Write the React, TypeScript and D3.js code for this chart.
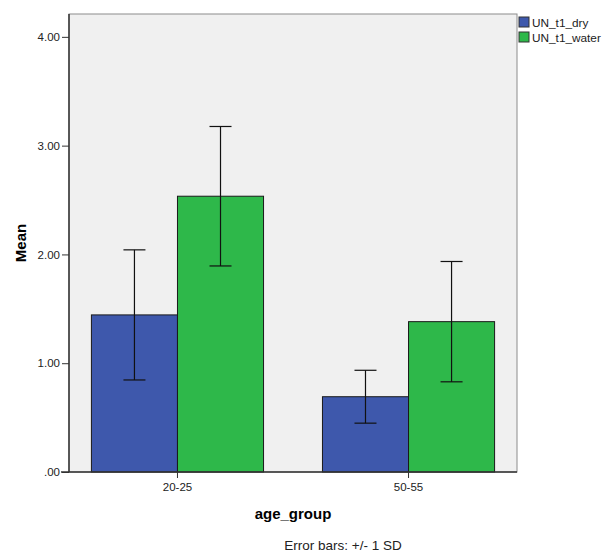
import React, { useEffect, useRef } from 'react'
import * as d3 from 'd3'

// chart data
const ageGroups = ['20-25', '50-55']
const seriesNames = ['UN_t1_dry', 'UN_t1_water']
const dryMeans = [1.444, 0.692]
const drySD = [0.598, 0.243]
const waterMeans = [2.535, 1.382]
const waterSD = [0.641, 0.553]
const yTicks = [0, 1, 2, 3, 4]
const seriesColors = ['#3e58ac', '#2eb84a']

const W = 603, H = 553
const margin = { top: 14, right: 86, bottom: 81, left: 69 }
const FONT = '"Liberation Sans", Arial, sans-serif'

const App = () => {
    const ref = useRef(null)

    useEffect(() => {
        const width = W - margin.left - margin.right
        const height = H - margin.top - margin.bottom

        const root = d3.select(ref.current)
        root.selectAll('*').remove()

        const svg = root.append('g')
            .attr('transform', 'translate(' + margin.left + ',' + margin.top + ')')

        const x = d3.scaleBand().domain(ageGroups).range([0, width])
            .paddingInner(0.255).paddingOuter(0.097)
        const xs = d3.scaleBand().domain(seriesNames).range([0, x.bandwidth()])
        const y = d3.scaleLinear().domain([0, 4.21]).range([height, 0])

        // plot background
        svg.append('rect')
            .attr('width', width).attr('height', height)
            .attr('fill', '#f0f0f0')
            .attr('stroke', '#8c8c8c').attr('stroke-width', 1)

        const rows = ageGroups.map((g, i) => [
            { g, s: seriesNames[0], m: dryMeans[i], sd: drySD[i], c: seriesColors[0] },
            { g, s: seriesNames[1], m: waterMeans[i], sd: waterSD[i], c: seriesColors[1] }
        ]).flat()

        svg.selectAll('.bar')
            .data(rows)
            .enter()
            .append('rect')
            .attr('class', 'bar')
            .attr('x', d => x(d.g) + xs(d.s))
            .attr('y', d => y(d.m))
            .attr('width', xs.bandwidth())
            .attr('height', d => height - y(d.m))
            .attr('fill', d => d.c)
            .attr('stroke', '#1a1a1a')
            .attr('stroke-width', 1)

        // error bars +/- 1 SD
        const err = svg.selectAll('.err').data(rows).enter().append('g')
            .attr('transform', d => 'translate(' + (x(d.g) + xs(d.s) + xs.bandwidth() / 2) + ',0)')
            .attr('stroke', '#111').attr('stroke-width', 1.2)
        err.append('line')
            .attr('y1', d => y(d.m + d.sd)).attr('y2', d => y(d.m - d.sd))
        err.append('line').attr('x1', -11).attr('x2', 11)
            .attr('y1', d => y(d.m + d.sd)).attr('y2', d => y(d.m + d.sd))
        err.append('line').attr('x1', -11).attr('x2', 11)
            .attr('y1', d => y(d.m - d.sd)).attr('y2', d => y(d.m - d.sd))

        // axes
        const yAxis = svg.append('g')
            .call(d3.axisLeft(y).tickValues(yTicks).tickSize(7).tickPadding(2)
                .tickFormat(d => d === 0 ? '.00' : d3.format('.2f')(d)))
        const xAxis = svg.append('g')
            .attr('transform', 'translate(0,' + height + ')')
            .call(d3.axisBottom(x).tickSize(6).tickPadding(5))
        xAxis.selectAll('.tick').attr('transform', d => 'translate(' + (x(d) + x.bandwidth() / 2) + ',0)')
        ;[yAxis, xAxis].forEach(a => {
            a.select('.domain').attr('stroke', '#333').attr('stroke-width', 1.5)
            a.selectAll('.tick line').attr('stroke', '#333')
            a.selectAll('text').attr('font-family', FONT).attr('font-size', 11.5).attr('fill', '#222')
        })
        yAxis.select('.domain').attr('d', 'M0,' + height + 'V0')
        xAxis.select('.domain').attr('d', 'M-8,0H' + width)

        svg.append('text')
            .attr('transform', 'translate(' + (20 - margin.left) + ',' + (height / 2) + ') rotate(-90)')
            .attr('text-anchor', 'middle')
            .attr('dominant-baseline', 'central')
            .attr('font-family', FONT).attr('font-size', 15).attr('font-weight', 'bold')
            .text('Mean')

        svg.append('text')
            .attr('x', 293 - margin.left).attr('y', height + 47)
            .attr('text-anchor', 'middle')
            .attr('font-family', FONT).attr('font-size', 15).attr('font-weight', 'bold')
            .text('age_group')

        svg.append('text')
            .attr('x', 343 - margin.left).attr('y', height + 78)
            .attr('text-anchor', 'middle')
            .attr('font-family', FONT).attr('font-size', 13.5).attr('fill', '#222')
            .text('Error bars: +/- 1 SD')

        // legend
        const legend = root.append('g').attr('transform', 'translate(519,17)')
        const item = legend.selectAll('g').data(seriesNames).enter().append('g')
            .attr('transform', (d, i) => 'translate(0,' + i * 15 + ')')
        item.append('rect').attr('width', 10).attr('height', 10)
            .attr('fill', (d, i) => seriesColors[i]).attr('stroke', '#333')
        item.append('text').attr('x', 13).attr('y', 9.5)
            .attr('font-family', FONT).attr('font-size', 11.8).attr('fill', '#222')
            .text(d => d)
    })

    return (
        <svg ref={ref} width={W} height={H} style={{ position: 'absolute', left: 0, top: 0, background: '#fff' }}></svg>
    )
}

export default App
